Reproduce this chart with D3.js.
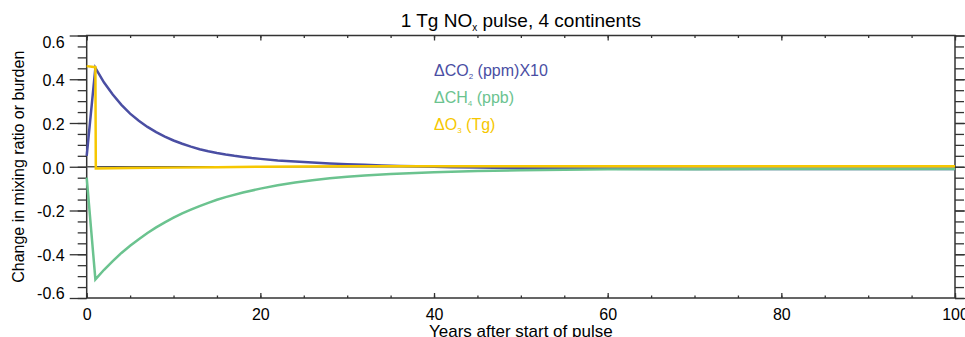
<!DOCTYPE html>
<html>
<head>
<meta charset="utf-8">
<script src="https://cdn.jsdelivr.net/npm/d3@7"></script>
<style>
  body { margin: 0; background: #fff; }
  svg { display: block; font-family: "Liberation Sans", Arial, sans-serif; }
</style>
</head>
<body>
<div id="chart"></div>
<script>
// values
var co2Years = [0, 1, 2, 3, 4, 5, 6, 7, 8, 9, 10, 11, 12, 13, 14, 15, 16, 17, 18, 19, 20, 22, 24, 26, 28, 30, 32, 34, 36, 38, 40, 42, 45, 50, 55, 60, 70, 80, 90, 100];
var co2Vals  = [0.05, 0.452, 0.385, 0.33, 0.283, 0.243, 0.21, 0.182, 0.158, 0.138, 0.12, 0.105, 0.092, 0.08, 0.071, 0.063, 0.056, 0.05, 0.045, 0.04, 0.036, 0.029, 0.024, 0.019, 0.015, 0.012, 0.009, 0.006, 0.004, 0.002, 0.0, -0.002, -0.004, -0.007, -0.008, -0.009, -0.01, -0.01, -0.01, -0.01];

var ch4Years = [0, 1, 2, 3, 4, 5, 6, 7, 8, 9, 10, 11, 12, 13, 14, 15, 16, 18, 20, 22, 24, 26, 28, 30, 32, 35, 40, 45, 50, 60, 70, 80, 90, 100];
var ch4Vals  = [-0.05, -0.515, -0.471, -0.431, -0.394, -0.361, -0.331, -0.303, -0.277, -0.254, -0.233, -0.213, -0.196, -0.18, -0.165, -0.151, -0.139, -0.118, -0.1, -0.085, -0.072, -0.062, -0.053, -0.046, -0.04, -0.033, -0.025, -0.019, -0.016, -0.012, -0.011, -0.01, -0.01, -0.01];

var o3Years = [0, 1, 1.05, 5, 10, 15, 20, 25, 30, 40, 60, 80, 100];
var o3Vals  = [0.46, 0.455, -0.008, -0.006, -0.004, -0.002, 0.0, 0.001, 0.002, 0.002, 0.002, 0.002, 0.002];

var xTicks = [0, 20, 40, 60, 80, 100];
var yTicks = [-0.6, -0.4, -0.2, 0.0, 0.2, 0.4, 0.6];

var seriesNames  = ["CO", "CH", "O"];
var seriesSubs   = ["2", "4", "3"];
var seriesUnits  = [" (ppm)X10", " (ppb)", " (Tg)"];
var seriesColors = ["#4a4ea3", "#6bc38f", "#f6c700"];

function init() {
    var w = 965, h = 337;
    var left = 86.7, right = 955, top = 35.5, bottom = 298;

    var svg = d3.select("#chart").append("svg")
        .attr("width", w)
        .attr("height", h);

    var xScale = d3.scaleLinear().domain([0, 100]).range([left, right]);
    var yScale = d3.scaleLinear().domain([-0.6, 0.6]).range([bottom, top]);

    var axisColor = "#333";

    // minor and major ticks on all four sides
    function styleAxis(g) {
        g.select(".domain").remove();
        g.selectAll(".tick line").attr("stroke", axisColor).attr("stroke-width", 1.3);
    }
    var yMinor = d3.range(-0.6, 0.6001, 0.05);
    var xMinor = d3.range(0, 100.001, 5);

    svg.append("g").attr("transform", "translate(" + left + ",0)")
        .call(d3.axisLeft(yScale).tickValues(yMinor).tickSize(9).tickFormat(""))
        .call(styleAxis);
    svg.append("g").attr("transform", "translate(" + left + ",0)")
        .call(d3.axisLeft(yScale).tickValues(yTicks).tickSize(17).tickPadding(5)
            .tickFormat(function(d) { return d.toFixed(1); }))
        .call(styleAxis)
        .call(function(g) {
            g.selectAll("text").attr("fill", "#000").style("font-size", "16px")
                .attr("dy", function(d) {
                    if (d > 0.55) return "0.75em";
                    if (d < -0.55) return "0.05em";
                    return "0.4em";
                });
        });

    svg.append("g").attr("transform", "translate(" + right + ",0)")
        .call(d3.axisRight(yScale).tickValues(yMinor).tickSize(9).tickFormat(""))
        .call(styleAxis);
    svg.append("g").attr("transform", "translate(" + right + ",0)")
        .call(d3.axisRight(yScale).tickValues(yTicks).tickSize(17).tickFormat(""))
        .call(styleAxis);

    svg.append("g").attr("transform", "translate(0," + bottom + ")")
        .call(d3.axisTop(xScale).tickValues(xMinor).tickSize(2.5).tickFormat(""))
        .call(styleAxis);
    svg.append("g").attr("transform", "translate(0," + bottom + ")")
        .call(d3.axisTop(xScale).tickValues(xTicks).tickSize(5).tickFormat(""))
        .call(styleAxis);
    svg.append("g").attr("transform", "translate(0," + bottom + ")")
        .call(d3.axisBottom(xScale).tickValues(xTicks).tickSize(0).tickPadding(11)
            .tickFormat(function(d) { return d; }))
        .call(styleAxis)
        .call(function(g) {
            g.selectAll("text").attr("fill", "#000").style("font-size", "16px");
        });

    svg.append("g").attr("transform", "translate(0," + top + ")")
        .call(d3.axisBottom(xScale).tickValues(xMinor).tickSize(2.5).tickFormat(""))
        .call(styleAxis);
    svg.append("g").attr("transform", "translate(0," + top + ")")
        .call(d3.axisBottom(xScale).tickValues(xTicks).tickSize(5).tickFormat(""))
        .call(styleAxis);

    // frame
    svg.append("rect")
        .attr("x", left).attr("y", top)
        .attr("width", right - left).attr("height", bottom - top)
        .attr("fill", "none").attr("stroke", axisColor).attr("stroke-width", 1.5);

    // zero line
    svg.append("line")
        .attr("x1", xScale(0)).attr("x2", xScale(100))
        .attr("y1", yScale(0)).attr("y2", yScale(0))
        .attr("stroke", "#555").attr("stroke-width", 1.3);

    var line = d3.line()
        .x(function(d) { return xScale(d[0]); })
        .y(function(d) { return yScale(d[1]); });

    var series = [
        d3.zip(co2Years, co2Vals),
        d3.zip(ch4Years, ch4Vals),
        d3.zip(o3Years, o3Vals)
    ];

    svg.selectAll("path.series")
        .data(series)
        .enter()
        .append("path")
        .attr("class", "series")
        .attr("d", line)
        .attr("fill", "none")
        .attr("stroke", function(d, i) { return seriesColors[i]; })
        .attr("stroke-width", 2.5)
        .attr("stroke-linejoin", "miter");

    // legend
    var legend = svg.selectAll("text.legend")
        .data(seriesNames)
        .enter()
        .append("text")
        .attr("class", "legend")
        .attr("x", xScale(40))
        .attr("y", function(d, i) { return 76 + i * 27; })
        .attr("fill", function(d, i) { return seriesColors[i]; })
        .style("font-size", "16px");
    legend.append("tspan").text(function(d) { return "\u0394" + d; });
    legend.append("tspan").attr("dy", 3).style("font-size", "8px")
        .text(function(d, i) { return seriesSubs[i]; });
    legend.append("tspan").attr("dy", -3)
        .text(function(d, i) { return seriesUnits[i]; });

    // title
    var title = svg.append("text")
        .attr("x", (left + right) / 2)
        .attr("y", 27)
        .attr("text-anchor", "middle")
        .style("font-size", "19px")
        .attr("fill", "#000");
    title.append("tspan").text("1 Tg NO");
    title.append("tspan").attr("dy", 4).style("font-size", "10px").text("x");
    title.append("tspan").attr("dy", -4).text(" pulse, 4 continents");

    // axis titles
    svg.append("text")
        .attr("x", (left + right) / 2)
        .attr("y", 337)
        .attr("text-anchor", "middle")
        .style("font-size", "17px")
        .attr("fill", "#000")
        .text("Years after start of pulse");

    svg.append("text")
        .attr("transform", "translate(24," + ((top + bottom) / 2) + ") rotate(-90)")
        .attr("text-anchor", "middle")
        .style("font-size", "16px")
        .attr("fill", "#000")
        .text("Change in mixing ratio or burden");
}
window.onload = init;
</script>
</body>
</html>
